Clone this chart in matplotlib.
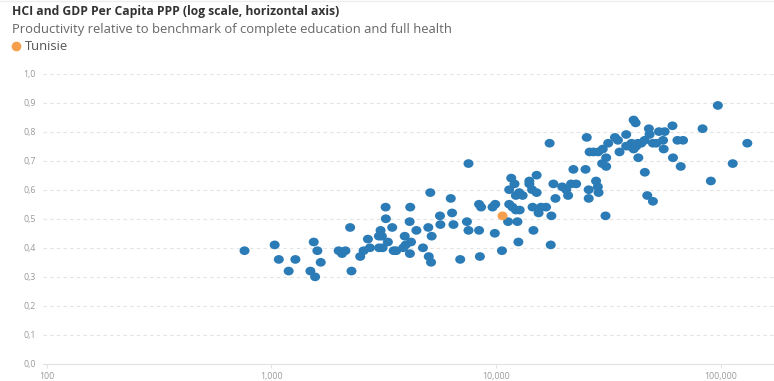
import matplotlib
matplotlib.use("Agg")
import matplotlib.pyplot as plt
from matplotlib.path import Path
from matplotlib.ticker import FixedLocator, FuncFormatter, NullLocator

# GDP per capita PPP (USD) and HCI for every country
gdp = [
    760, 1035, 1080, 1280, 1195, 1545, 1604, 1660, 1493, 1567,
    2244, 1995, 2065, 2138, 2275, 2488, 2576, 2692, 2748, 3020,
    3130, 3066, 3107, 3013, 3228, 3236, 3454, 3304, 3505, 3600,
    3869, 3927, 3966, 4188, 4141, 4155, 4130, 4426, 4734, 5000,
    5175, 5104, 5023, 5143, 5636, 5659, 6295, 6380, 6470, 6935,
    7430, 7550, 8415, 8485, 8415, 8590, 9660, 9930, 9885, 10640,
    7550, 11330, 12470, 11460, 11850, 12270, 12760, 14690, 12590, 11700,
    12100, 11460, 12270, 12700, 13150, 14090, 14090, 14490, 15180, 15180,
    14560, 15490, 15880, 16720, 17660, 17540, 17340, 18030, 18410, 19720,
    20550, 20960, 21620, 22760, 22130, 25060, 25370, 25890, 25890, 27920,
    28430, 28640, 30760, 26130, 27190, 28510, 29900, 30970, 29720, 30970,
    31620, 33890, 34930, 35510, 38020, 38020, 39350, 40180, 41030, 42170,
    42860, 44370, 45920, 41030, 41880, 43050, 46030, 47200, 50000, 47970,
    48310, 50000, 51760, 53200, 55460, 56400, 55830, 61090, 61420, 64310,
    68100, 66500, 83180, 90570, 97290, 113300, 131600,
]
hci = [
    0.39, 0.41, 0.36, 0.36, 0.32, 0.42, 0.39, 0.35, 0.32, 0.30,
    0.47, 0.39, 0.38, 0.39, 0.32, 0.37, 0.39, 0.43, 0.40, 0.40,
    0.40, 0.46, 0.44, 0.44, 0.54, 0.50, 0.47, 0.42, 0.39, 0.39,
    0.40, 0.44, 0.41, 0.42, 0.38, 0.54, 0.49, 0.46, 0.40, 0.47,
    0.44, 0.59, 0.37, 0.35, 0.51, 0.48, 0.57, 0.52, 0.48, 0.36,
    0.49, 0.46, 0.46, 0.37, 0.55, 0.54, 0.54, 0.55, 0.45, 0.39,
    0.69, 0.49, 0.49, 0.55, 0.54, 0.53, 0.53, 0.46, 0.42, 0.64,
    0.62, 0.60, 0.58, 0.59, 0.58, 0.63, 0.62, 0.60, 0.65, 0.59,
    0.54, 0.52, 0.54, 0.54, 0.51, 0.41, 0.76, 0.62, 0.57, 0.61,
    0.60, 0.58, 0.62, 0.62, 0.67, 0.67, 0.78, 0.57, 0.60, 0.63,
    0.61, 0.59, 0.51, 0.73, 0.73, 0.73, 0.74, 0.71, 0.69, 0.68,
    0.76, 0.78, 0.77, 0.73, 0.79, 0.75, 0.75, 0.76, 0.74, 0.75,
    0.76, 0.76, 0.77, 0.84, 0.83, 0.71, 0.66, 0.58, 0.56, 0.81,
    0.79, 0.76, 0.76, 0.80, 0.77, 0.80, 0.74, 0.82, 0.71, 0.77,
    0.77, 0.68, 0.81, 0.63, 0.89, 0.69, 0.76,
]

tun_gdp = [10700]
tun_hci = [0.51]

x_ticks = [100, 1000, 10000, 100000]
y_ticks = [0.0, 0.1, 0.2, 0.3, 0.4, 0.5, 0.6, 0.7, 0.8, 0.9, 1.0]

blue = "#2b7bb6"
orange = "#f6a04d"
grid_col = "#e3e3e3"

plt.rcParams["font.family"] = ["Open Sans", "DejaVu Sans"]

# slightly wide dot marker
circ = Path.unit_circle()
dot = Path(circ.vertices * [1.15, 1.0], circ.codes)

fig = plt.figure(figsize=(7.74, 3.81), dpi=100)
ax = fig.add_axes([43 / 774, 17 / 381, 1 - 43 / 774, (364 - 73.5) / 381])

ax.scatter(gdp, hci, s=52, marker=dot, color=blue, edgecolors="none", zorder=3, clip_on=False)
ax.scatter(tun_gdp, tun_hci, s=52, marker=dot, color=orange, edgecolors="none", zorder=4, clip_on=False)

ax.set_xscale("log")
ax.set_xlim(96.3, 173000)
ax.set_ylim(0, 1.0)

ax.xaxis.set_major_locator(FixedLocator(x_ticks))
ax.xaxis.set_minor_locator(NullLocator())
ax.xaxis.set_major_formatter(FuncFormatter(lambda v, p: f"{int(v):,}"))
ax.yaxis.set_major_locator(FixedLocator(y_ticks))
ax.yaxis.set_major_formatter(FuncFormatter(lambda v, p: f"{v:.1f}".replace(".", ",")))

ax.tick_params(axis="x", colors=grid_col, length=3, width=0.8, labelsize=6.3,
               labelcolor="#9a9a9a", pad=2.5)
ax.tick_params(axis="y", length=0, labelsize=6.3, labelcolor="#9a9a9a", pad=5)

#dashed horizontal grid only
ax.grid(axis="y", color=grid_col, linestyle=(0, (3, 3)), linewidth=0.8)
ax.set_axisbelow(True)
for side in ["top", "right", "left"]:
    ax.spines[side].set_visible(False)
ax.spines["bottom"].set_color(grid_col)
ax.spines["bottom"].set_linewidth(0.8)

fig.text(12 / 774, 1 - 12 / 381, "HCI and GDP Per Capita PPP (log scale, horizontal axis)",
         fontsize=8.7, fontweight="bold", color="#333333", va="center")
fig.text(12 / 774, 1 - 30 / 381,
         "Productivity relative to benchmark of complete education and full health",
         fontsize=9.4, color="#666666", va="center")

# legend entry for the highlighted country
leg_dot = plt.Line2D([], [], marker="o", linestyle="None", markersize=7,
                     markerfacecolor=orange, markeredgecolor="none")
fig.legend([leg_dot], ["Tunisie"], loc="center left",
           bbox_to_anchor=(3 / 774, 1 - 47 / 381), frameon=False,
           handlelength=1.0, handletextpad=0.15, borderpad=0,
           prop={"size": 9.4}, labelcolor="#555555")

fig.add_artist(plt.Line2D([0, 1], [1 - 1 / 381, 1 - 1 / 381], color="#eeeeee", linewidth=1))

fig.savefig("out.png", dpi=100)
